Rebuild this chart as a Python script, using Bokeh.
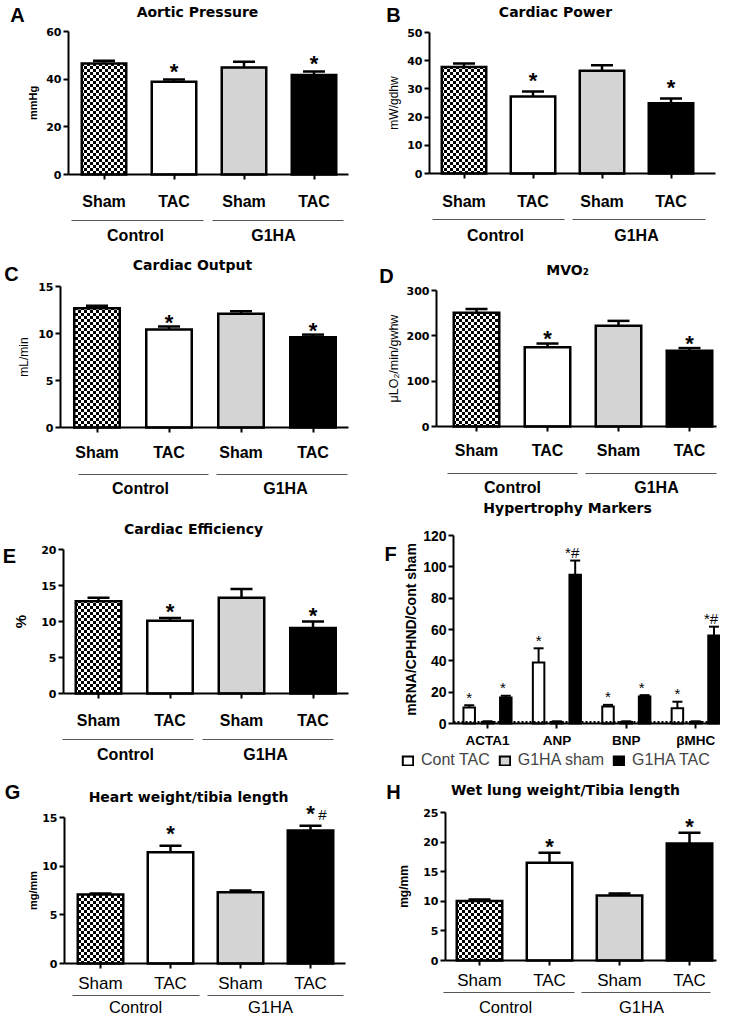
import base64
from bokeh.plotting import figure
from bokeh.models import Range1d, FixedTicker, ColumnDataSource, ImageURLTexture, Legend, LegendItem
from bokeh.layouts import column, row
from bokeh.embed import file_html
from bokeh.resources import INLINE
from bokeh.core.properties import value

# ------------------------------------------------------------------ data
conditions = ["Sham", "TAC", "Sham", "TAC"]
groups = ["Control", "G1HA"]

aortic_pressure = [46.6, 38.9, 44.9, 41.7]
aortic_pressure_sem = [1.1, 1.0, 2.4, 1.5]
aortic_ticks = [0, 20, 40, 60]

cardiac_power = [37.8, 27.3, 36.4, 24.9]
cardiac_power_sem = [1.2, 1.8, 2.0, 1.7]
power_ticks = [0, 10, 20, 30, 40, 50]

cardiac_output = [12.69, 10.42, 12.09, 9.60]
cardiac_output_sem = [0.25, 0.32, 0.28, 0.28]
output_ticks = [0, 5, 10, 15]

mvo2 = [251, 175, 222, 167]
mvo2_sem = [8, 8, 11, 6]
mvo2_ticks = [0, 100, 200, 300]

cardiac_efficiency = [12.8, 10.1, 13.3, 9.1]
cardiac_efficiency_sem = [0.5, 0.4, 1.2, 0.9]
efficiency_ticks = [0, 5, 10, 15, 20]

heart_weight_tibia = [7.09, 11.42, 7.33, 13.67]
heart_weight_tibia_sem = [0.11, 0.68, 0.17, 0.48]
heart_ticks = [0, 5, 10, 15]

lung_weight_tibia = [10.05, 16.5, 11.0, 19.75]
lung_weight_tibia_sem = [0.25, 1.7, 0.3, 1.85]
lung_ticks = [0, 5, 10, 15, 20, 25]

sig_tac = ["", "*", "", "*"]
sig_heart = ["", "*", "", "*#"]

markers = ["ACTA1", "ANP", "BNP", "βMHC"]
series_names = ["Cont TAC", "G1HA sham", "G1HA TAC"]
cont_tac = [10.2, 39.0, 10.9, 9.8]
cont_tac_sem = [1.5, 9.0, 1.0, 4.1]
g1ha_sham = [1.0, 1.0, 1.0, 1.0]
g1ha_sham_sem = [0.4, 0.4, 0.4, 0.4]
g1ha_tac = [16.6, 94.9, 17.3, 56.1]
g1ha_tac_sem = [1.1, 9.1, 0.8, 5.7]
cont_tac_sig = ["*", "*", "*", "*"]
g1ha_sham_sig = ["", "", "", ""]
g1ha_tac_sig = ["*", "*#", "*", "*#"]
cont_sham_level = 1
marker_ticks = [0, 20, 40, 60, 80, 100, 120]

# ------------------------------------------------------------------ style
SANS = "Liberation Sans"
WIDE = "DejaVu Sans"
BAR_FILLS = ["white", "white", "#d4d4d4", "black"]
BAR_HATCH = ["checker", "blank", "blank", "blank"]

_svg = ("<svg xmlns='http://www.w3.org/2000/svg' width='6' height='6'>"
        "<rect width='6' height='6' fill='white'/>"
        "<rect width='3' height='3' fill='black'/>"
        "<rect x='3' y='3' width='3' height='3' fill='black'/></svg>")
CHECKER = ImageURLTexture(url="data:image/svg+xml;base64," + base64.b64encode(_svg.encode()).decode(),
                          repetition="repeat")


def base_figure(g, ymax):
    FL, FT, FW, FH = g["box"]
    c0, u, y0 = g["c0"], g["u"], g["y0"]
    k = (y0 - g["ytop"]) / ymax
    dx = lambda px: (px - c0) / u
    dy = lambda py: (y0 - py) / k
    p = figure(width=FW, height=FH,
               x_range=Range1d(dx(FL), dx(FL + FW)),
               y_range=Range1d(dy(FT + FH), dy(FT)),
               output_backend="svg", toolbar_location=None, min_border=0)
    p.outline_line_color = None
    p.xgrid.grid_line_color = None
    p.ygrid.grid_line_color = None
    p.background_fill_color = "white"
    p.border_fill_color = "white"
    return p, dx, dy, k


def style_axes(p, g, dx, ticks, xticks, xlabels, tick_font, tick_size, tick_style,
               xl_font_size, xl_style, ylabel, yl_size, yl_style, yl_font):
    ax0, ax1 = g["axis"]
    ya = p.yaxis[0]
    ya.fixed_location = dx(ax0)
    ya.bounds = (0, ticks[-1])
    ya.ticker = FixedTicker(ticks=ticks)
    ya.minor_tick_line_color = None
    ya.major_tick_in = 0
    ya.major_tick_out = 5
    ya.major_tick_line_width = 2
    ya.axis_line_width = 2
    ya.major_label_standoff = 2
    ya.major_label_text_font = tick_font
    ya.major_label_text_font_size = f"{tick_size}px"
    ya.major_label_text_font_style = tick_style
    ya.major_label_text_color = "black"
    digit_w = 0.696 if tick_font == WIDE else 0.556
    lab_w = max(len(str(t)) for t in ticks) * digit_w * tick_size
    left_edge = ax0 - 5 - 2 - lab_w
    ya.axis_label = ylabel
    ya.axis_label_text_font = yl_font
    ya.axis_label_text_font_size = f"{yl_size}px"
    ya.axis_label_text_font_style = yl_style
    ya.axis_label_text_color = "black"
    ya.axis_label_standoff = max(0, int(round(left_edge - 0.6 * yl_size - g["ylabel_x"])))

    xa = p.xaxis[0]
    xa.fixed_location = 0
    xa.bounds = (dx(ax0), dx(ax1))
    xa.ticker = FixedTicker(ticks=xticks)
    xa.major_label_overrides = {i: lab for i, lab in zip(xticks, xlabels)}
    xa.minor_tick_line_color = None
    xa.major_tick_in = 0
    xa.major_tick_out = 5
    xa.major_tick_line_width = 2
    xa.axis_line_width = 2
    xa.major_label_text_font = SANS
    xa.major_label_text_font_size = f"{xl_font_size}px"
    xa.major_label_text_font_style = xl_style
    xa.major_label_text_color = "black"
    xa.major_label_standoff = max(0, int(round(g["tick_y"] - 0.46 * xl_font_size - g["y0"] - 5)))


def bar_panel(g, ticks, means, sems, sigs, title, letter, ylabel,
              tick_style="bold", tick_size=16, group_size=16, yl_style="bold", yl_size=11,
              star_size=22):
    p, dx, dy, k = base_figure(g, ticks[-1])
    pos = list(range(len(means)))
    style_axes(p, g, dx, ticks, pos, conditions, WIDE, 11, "bold",
               tick_size, tick_style, ylabel, yl_size, yl_style, SANS)

    u = g["u"]
    lw = 2.5
    src = ColumnDataSource(dict(x=pos, top=means, fill=BAR_FILLS, hatch=BAR_HATCH))
    p.vbar(x="x", top="top", bottom=0, width=(g["bw"] - lw) / u, source=src,
           fill_color="fill", line_color="black", line_width=lw, line_join="miter",
           hatch_pattern="hatch", hatch_extra={"checker": CHECKER})
    tops = [m + s for m, s in zip(means, sems)]
    cw = g["cap"] / 2 / u
    p.segment(x0=pos, y0=means, x1=pos, y1=tops, line_color="black", line_width=lw)
    p.segment(x0=[x - cw for x in pos], y0=tops, x1=[x + cw for x in pos], y1=tops,
              line_color="black", line_width=lw)

    # significance marks
    stars = [s.replace("#", "") for s in sigs]
    p.text(x=pos, y=tops, text=stars, text_font=value(SANS), text_font_style="bold",
           text_font_size=f"{star_size}px", text_align="center", text_baseline="middle",
           text_color="black", y_offset=-g["star_off"] + 0.27 * star_size)
    hx = [x for x, s in zip(pos, sigs) if "#" in s]
    hy = [t for t, s in zip(tops, sigs) if "#" in s]
    if hx:
        p.text(x=hx, y=hy, text=["#"] * len(hx), text_font=value(SANS),
               text_font_size="15px", text_align="center", text_baseline="middle",
               text_color="black", x_offset=12, y_offset=-g["star_off"] + 7)

    # group separators and labels
    ly = dy(g["gline_y"])
    spans = g["glines"]
    p.segment(x0=[dx(a) for a, b in spans], y0=[ly] * len(spans),
              x1=[dx(b) for a, b in spans], y1=[ly] * len(spans),
              line_color="#555555", line_width=1)
    p.text(x=[dx(x) for x in g["glabel_x"]], y=[dy(g["glabel_y"])] * len(groups), text=groups,
           text_font=value(SANS), text_font_style=tick_style, text_font_size=f"{group_size}px",
           text_align="center", text_baseline="middle", text_color="black")

    # title and panel letter
    tx, ty = g["title"]
    p.text(x=[dx(tx)], y=[dy(ty)], text=[title], text_font=value(WIDE), text_font_style="bold",
           text_font_size="14px", text_align="center", text_baseline="middle", text_color="black")
    lx, lyy = g["letter"]
    p.text(x=[dx(lx)], y=[dy(lyy)], text=[letter], text_font=value(SANS), text_font_style="bold",
           text_font_size="20px", text_align="center", text_baseline="middle", text_color="black")
    return p


def marker_panel(g):
    p, dx, dy, k = base_figure(g, marker_ticks[-1])
    pos = list(range(len(markers)))
    style_axes(p, g, dx, marker_ticks, pos, markers, SANS, 14, "bold",
               13.5, "bold", "mRNA/CPHND/Cont sham", 14, "bold", SANS)
    u = g["u"]
    lw = 2
    offs = [-18.3 / u, 0, 18.3 / u]
    vals = [cont_tac, g1ha_sham, g1ha_tac]
    sems = [cont_tac_sem, g1ha_sham_sem, g1ha_tac_sem]
    sigs = [cont_tac_sig, g1ha_sham_sig, g1ha_tac_sig]
    sig_dx = [0, 0, -3]
    fills = ["white", "#d4d4d4", "black"]
    bw = (13.5 - lw) / u
    cw = 5 / u
    items = []
    for j in range(3):
        xs = [i + offs[j] for i in pos]
        r = p.vbar(x=xs, top=vals[j], bottom=0, width=bw, fill_color=fills[j],
                   line_color="black", line_width=lw, line_join="miter")
        tops = [m + s for m, s in zip(vals[j], sems[j])]
        p.segment(x0=xs, y0=vals[j], x1=xs, y1=tops, line_color="black", line_width=lw)
        p.segment(x0=[x - cw for x in xs], y0=tops, x1=[x + cw for x in xs], y1=tops,
                  line_color="black", line_width=lw)
        p.text(x=xs, y=tops, text=sigs[j], text_font=value(SANS), text_font_size="15px",
               text_align="center", text_baseline="middle", text_color="black",
               x_offset=sig_dx[j], y_offset=-g["star_off"] + 4)
        items.append(LegendItem(label=series_names[j], renderers=[r]))

    ax0, ax1 = g["axis"]
    p.segment(x0=[dx(ax0)], y0=[cont_sham_level], x1=[dx(ax1)], y1=[cont_sham_level],
              line_color="black", line_width=2, line_dash="2 2")

    leg = Legend(items=items, orientation="horizontal", location=g["legend"],
                 padding=0, margin=0, spacing=8, label_standoff=7,
                 glyph_width=13, glyph_height=11,
                 label_text_font=SANS, label_text_font_size="16px",
                 border_line_alpha=0, background_fill_alpha=0)
    p.add_layout(leg)

    tx, ty = g["title"]
    p.text(x=[dx(tx)], y=[dy(ty)], text=["Hypertrophy Markers"], text_font=value(WIDE),
           text_font_style="bold", text_font_size="14px", text_align="center",
           text_baseline="middle", text_color="black")
    lx, lyy = g["letter"]
    p.text(x=[dx(lx)], y=[dy(lyy)], text=["F"], text_font=value(SANS), text_font_style="bold",
           text_font_size="20px", text_align="center", text_baseline="middle", text_color="black")
    return p


# ------------------------------------------------------------------ layout (picture pixels)
GA = dict(box=(0, 0, 360, 250), c0=103.5, u=70, axis=(68, 348), y0=174, ytop=31, bw=47, cap=22,
          title=(197, 11), letter=(17, 14), tick_y=199, gline_y=220, glines=[(71, 203), (212, 343)],
          glabel_y=235, glabel_x=[135, 273], ylabel_x=35, star_off=14)
GB = dict(box=(360, 0, 360, 250), c0=463.5, u=69, axis=(429, 715), y0=173, ytop=32, bw=47, cap=22,
          title=(555, 11), letter=(393, 14), tick_y=199, gline_y=219, glines=[(432, 564), (572, 705)],
          glabel_y=235, glabel_x=[495, 636], ylabel_x=396, star_off=17)
GC = dict(box=(0, 250, 360, 248), c0=96.5, u=72, axis=(60, 348), y0=427, ytop=286, bw=48, cap=22,
          title=(192, 264), letter=(11, 273), tick_y=450, gline_y=474, glines=[(78, 208), (216, 347)],
          glabel_y=488, glabel_x=[140, 285], ylabel_x=26, star_off=10)
GD = dict(box=(360, 250, 360, 248), c0=476, u=71, axis=(436, 716), y0=426, ytop=290, bw=48, cap=22,
          title=(567, 269), letter=(386, 275), tick_y=448, gline_y=473, glines=[(447, 577), (585, 716)],
          glabel_y=487, glabel_x=[512, 656], ylabel_x=396, star_off=11)
GE = dict(box=(0, 498, 360, 274), c0=98, u=71.5, axis=(63, 348), y0=693, ytop=549, bw=48, cap=22,
          title=(193, 528), letter=(9, 555), tick_y=718, gline_y=739, glines=[(62, 193), (202, 333)],
          glabel_y=754, glabel_x=[125, 265], ylabel_x=23, star_off=12)
GF = dict(box=(360, 498, 360, 274), c0=487, u=69.4, axis=(453, 719), y0=723, ytop=535,
          title=(567, 507), letter=(390, 553), tick_y=738, ylabel_x=413, star_off=12,
          legend=(41, 3))
GG = dict(box=(0, 772, 360, 244), c0=100, u=70, axis=(64, 345), y0=963, ytop=817, bw=48, cap=22,
          title=(188, 796), letter=(12, 791), tick_y=981, gline_y=995, glines=[(72, 199), (207, 343)],
          glabel_y=1006, glabel_x=[135, 270], ylabel_x=35, star_off=18)
GH = dict(box=(360, 772, 360, 244), c0=479, u=70, axis=(445, 716), y0=960, ytop=812, bw=48, cap=22,
          title=(565, 789), letter=(393, 791), tick_y=978, gline_y=992, glines=[(443, 574), (581, 710)],
          glabel_y=1006, glabel_x=[505, 641], ylabel_x=406, star_off=12)

pA = bar_panel(GA, aortic_ticks, aortic_pressure, aortic_pressure_sem, sig_tac,
               "Aortic Pressure", "A", "mmHg")
pB = bar_panel(GB, power_ticks, cardiac_power, cardiac_power_sem, sig_tac,
               "Cardiac Power", "B", "mW/gdhw", yl_style="normal", yl_size=12)
pC = bar_panel(GC, output_ticks, cardiac_output, cardiac_output_sem, sig_tac,
               "Cardiac Output", "C", "mL/min", yl_style="normal", yl_size=12)
pD = bar_panel(GD, mvo2_ticks, mvo2, mvo2_sem, sig_tac,
               "MVO₂", "D", "μLO₂/min/gwhw", yl_style="normal", yl_size=12.5)
pE = bar_panel(GE, efficiency_ticks, cardiac_efficiency, cardiac_efficiency_sem, sig_tac,
               "Cardiac Efficiency", "E", "%", yl_size=15)
pF = marker_panel(GF)
pG = bar_panel(GG, heart_ticks, heart_weight_tibia, heart_weight_tibia_sem, sig_heart,
               "Heart weight/tibia length", "G", "mg/mm", tick_style="normal", tick_size=17,
               group_size=16.5)
pH = bar_panel(GH, lung_ticks, lung_weight_tibia, lung_weight_tibia_sem, sig_tac,
               "Wet lung weight/Tibia length", "H", "mg/mm", tick_style="normal", tick_size=17,
               group_size=16.5, yl_size=12)

layout = column(row(pA, pB), row(pC, pD), row(pE, pF), row(pG, pH))

with open("out.html", "w") as f:
    f.write(file_html(layout, INLINE))
